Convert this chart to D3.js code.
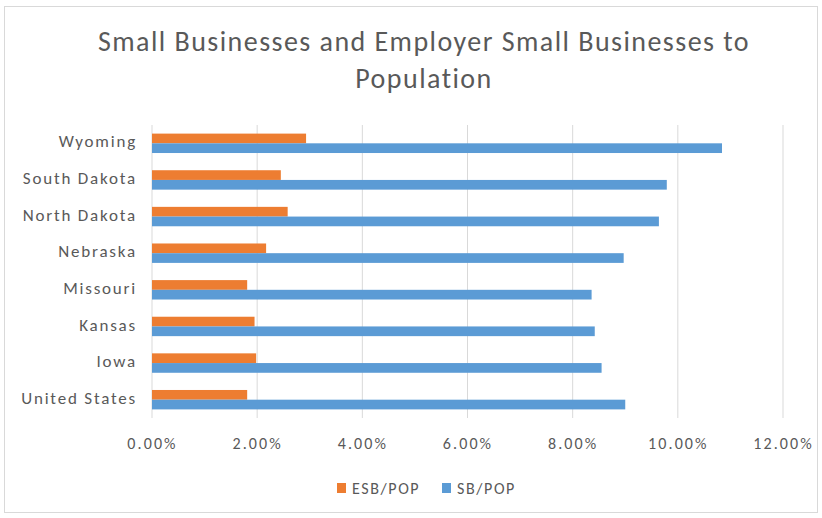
<!DOCTYPE html>
<html>
<head>
<meta charset="utf-8">
<script src="https://cdn.jsdelivr.net/npm/d3@7"></script>
<style>
  body { margin: 0; background: #fff; }
  text { font-family: Carlito, Calibri, Lato, sans-serif; fill: #595959; }
</style>
</head>
<body>
<div id="chart"></div>
<script>
// chart data
var states = ["Wyoming", "South Dakota", "North Dakota", "Nebraska", "Missouri", "Kansas", "Iowa", "United States"];
var esbPop = [0.0293, 0.0245, 0.0258, 0.0217, 0.0181, 0.0195, 0.0198, 0.0181];
var sbPop  = [0.1084, 0.0979, 0.0964, 0.0897, 0.0836, 0.0842, 0.0855, 0.0900];
var xTicks = [0, 0.02, 0.04, 0.06, 0.08, 0.10, 0.12];
var seriesNames = ["ESB/POP", "SB/POP"];
var colors = ["#ED7D31", "#5B9BD5"];

var W = 822, H = 518;
var margin = {top: 125, right: 39, bottom: 100, left: 152},
    width = W - margin.left - margin.right,
    height = H - margin.top - margin.bottom;

var root = d3.select("#chart").append("svg")
    .attr("width", W)
    .attr("height", H);

// outer frame
root.append("rect")
  .attr("x", 4.5).attr("y", 6.5)
  .attr("width", 813).attr("height", 506)
  .attr("fill", "#fff")
  .attr("stroke", "#D9D9D9");

// title
var title = root.append("text")
  .attr("text-anchor", "middle")
  .attr("font-size", 28)
  .attr("letter-spacing", 1.45);
title.append("tspan").attr("x", 424).attr("y", 51)
  .text("Small Businesses and Employer Small Businesses to");
title.append("tspan").attr("x", 424).attr("y", 88)
  .text("Population");

var svg = root.append("g")
  .attr("transform", "translate(" + margin.left + "," + margin.top + ")");

var x = d3.scaleLinear()
  .domain([0, 0.12])
  .range([0, width]);

var y = d3.scaleBand()
  .domain(states)
  .range([0, height])
  .paddingInner(0.47)
  .paddingOuter(0.235);

var sub = d3.scaleBand()
  .domain(seriesNames)
  .range([0, y.bandwidth()]);

// gridlines
svg.append("g")
  .selectAll("line")
  .data(xTicks)
  .join("line")
    .attr("x1", function(d) { return x(d); })
    .attr("x2", function(d) { return x(d); })
    .attr("y1", 0)
    .attr("y2", height)
    .attr("stroke", "#D9D9D9")
    .attr("stroke-width", 1);

// x axis labels
var xAxis = svg.append("g")
  .attr("transform", "translate(0," + height + ")")
  .call(d3.axisBottom(x).tickValues(xTicks).tickFormat(d3.format(".2%")).tickSize(0).tickPadding(20));
xAxis.select(".domain").remove();
xAxis.selectAll("text")
  .attr("font-size", 16)
  .attr("letter-spacing", 2.1)
  .attr("fill", "#595959")
  .style("font-family", "Carlito, Calibri, Lato, sans-serif");

// y axis labels
var yAxis = svg.append("g")
  .call(d3.axisLeft(y).tickSize(0).tickPadding(15));
yAxis.select(".domain").remove();
yAxis.selectAll("text")
  .attr("font-size", 17)
  .attr("letter-spacing", 1.8)
  .attr("dy", "0.24em")
  .attr("fill", "#595959")
  .style("font-family", "Carlito, Calibri, Lato, sans-serif");

// bars
var rows = svg.append("g")
  .selectAll("g")
  .data(states)
  .join("g")
    .attr("transform", function(d) { return "translate(0," + y(d) + ")"; });

rows.append("rect")
  .attr("x", x(0))
  .attr("y", sub("ESB/POP"))
  .attr("height", sub.bandwidth())
  .attr("width", function(d, i) { return x(esbPop[i]) - x(0); })
  .attr("fill", colors[0]);

rows.append("rect")
  .attr("x", x(0))
  .attr("y", sub("SB/POP"))
  .attr("height", sub.bandwidth())
  .attr("width", function(d, i) { return x(sbPop[i]) - x(0); })
  .attr("fill", colors[1]);

// legend
var legendX = [337, 442];
var legend = root.append("g")
  .selectAll("g")
  .data(seriesNames)
  .join("g")
    .attr("transform", function(d, i) { return "translate(" + legendX[i] + ",483)"; });
legend.append("rect")
  .attr("width", 9).attr("height", 10)
  .attr("fill", function(d, i) { return colors[i]; });
legend.append("text")
  .attr("x", 15).attr("y", 11)
  .attr("font-size", 16)
  .attr("letter-spacing", 1.6)
  .text(function(d) { return d; });
</script>
</body>
</html>
